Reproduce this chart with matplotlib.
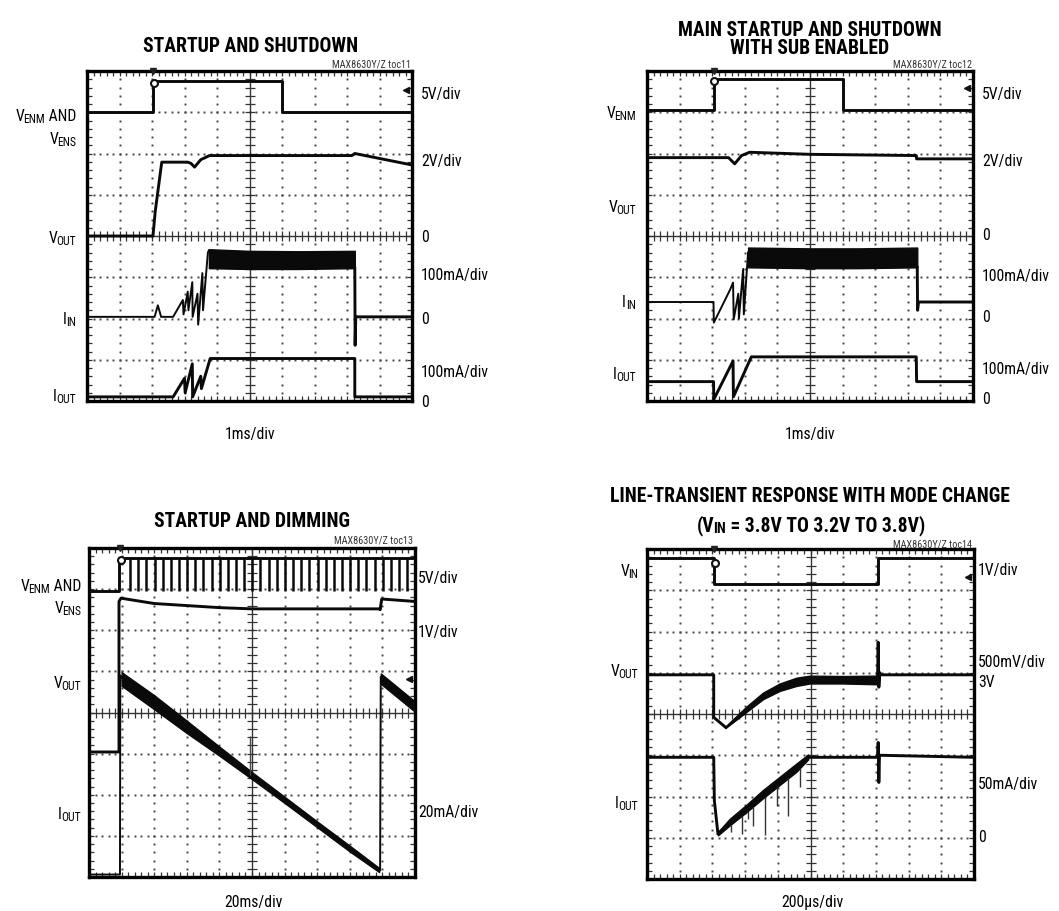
import numpy as np
import matplotlib
matplotlib.use('Agg')
import matplotlib.pyplot as plt
from matplotlib import font_manager as fm

# pick the narrowest sans family available
_names = {f.name for f in fm.fontManager.ttflist}
_cond = {f.name for f in fm.fontManager.ttflist
         if str(f.stretch) in ('condensed', 'semi-condensed', 'extra-condensed', 'ultra-condensed')
         or (isinstance(f.stretch, int) and f.stretch < 500)}
FONT, STRETCH = 'Liberation Sans', 'normal'
for cand in ['Liberation Sans Narrow', 'Roboto Condensed', 'Open Sans Condensed']:
    if cand in _names:
        FONT = cand
        break
else:
    for cand in ['Roboto', 'DejaVu Sans', 'Liberation Sans']:
        if cand in _cond:
            FONT, STRETCH = cand, 'condensed'
            break
    else:
        if 'Roboto' in _names:
            FONT = 'Roboto'
plt.rcParams['font.family'] = [FONT, 'DejaVu Sans']
plt.rcParams['font.stretch'] = STRETCH

# ---------------- data (screen divisions: x 0..10, y 0..8) ----------------
# Panel 1: STARTUP AND SHUTDOWN
p1_venm_t = [0, 2.03, 2.03, 6.01, 6.01, 10]
p1_venm_v = [7.0, 7.0, 7.75, 7.75, 7.0, 7.0]
p1_vout_t = [0, 2.03, 2.1, 2.3, 3.1, 3.2, 3.31, 3.5, 3.77, 8.15, 8.24, 9.95]
p1_vout_v = [4.0, 4.0, 4.6, 5.79, 5.79, 5.76, 5.67, 5.85, 5.95, 5.95, 6.0, 5.73]
p1_iin_t = [0, 2.08, 2.18, 2.28, 2.65, 2.95, 2.97, 3.1, 3.12, 3.24, 3.25, 3.4, 3.42, 3.55, 3.57, 3.72, 3.75]
p1_iin_v = [2.04, 2.04, 2.32, 2.04, 2.04, 2.45, 2.1, 2.65, 2.2, 2.88, 2.04, 2.6, 1.85, 3.1, 2.2, 3.6, 3.65]
p1_iin_band_t = [3.75, 5.0, 6.5, 8.24]
p1_iin_band_hi = [3.68, 3.64, 3.63, 3.64]
p1_iin_band_lo = [3.22, 3.2, 3.2, 3.22]
p1_iin_tail_t = [8.24, 8.25, 8.27, 10]
p1_iin_tail_v = [3.22, 1.35, 2.04, 2.04]
p1_iout_t = [0, 2.65, 3.0, 3.02, 3.24, 3.25, 3.5, 3.52, 3.79, 8.24, 8.24, 10]
p1_iout_v = [0.1, 0.1, 0.55, 0.2, 0.9, 0.1, 0.6, 0.3, 1.03, 1.03, 0.1, 0.1]

# Panel 2: MAIN STARTUP AND SHUTDOWN WITH SUB ENABLED
p2_venm_t = [0, 2.04, 2.04, 6.01, 6.01, 10]
p2_venm_v = [7.06, 7.06, 7.8, 7.8, 7.06, 7.06]
p2_vout_t = [0, 2.5, 2.69, 2.9, 3.15, 5.0, 8.26, 8.27, 10]
p2_vout_v = [5.9, 5.9, 5.75, 5.95, 6.03, 5.98, 5.95, 5.87, 5.87]
p2_iin_t = [0, 2.04, 2.05, 2.55, 2.64, 2.66, 2.8, 2.82, 2.95, 2.97, 3.1]
p2_iin_v = [2.4, 2.4, 1.9, 2.7, 2.87, 1.98, 2.6, 2.0, 3.2, 2.1, 3.6]
p2_iin_band_t = [3.1, 5.0, 6.5, 8.29]
p2_iin_band_hi = [3.72, 3.7, 3.7, 3.72]
p2_iin_band_lo = [3.24, 3.22, 3.22, 3.24]
p2_iin_tail_t = [8.29, 8.3, 8.33, 10]
p2_iin_tail_v = [3.24, 2.2, 2.4, 2.4]
p2_iout_t = [0, 2.04, 2.05, 2.64, 2.65, 3.2, 8.26, 8.27, 10]
p2_iout_v = [0.47, 0.47, 0.04, 0.97, 0.1, 1.07, 1.07, 0.47, 0.47]

# Panel 3: STARTUP AND DIMMING
p3_venm_t = [0, 0.92, 0.92, 10]
p3_venm_v = [6.96, 6.96, 7.75, 7.75]
p3_pulse_t = [1.26, 1.51, 1.76, 2.01, 2.26, 2.51, 2.76, 3.01, 3.26, 3.51, 3.76, 4.01,
              4.26, 4.51, 4.76, 5.01, 5.26, 5.51, 5.76, 6.01, 6.26, 6.51, 6.76, 7.01,
              7.26, 7.51, 7.76, 8.01, 8.26, 8.51, 8.76, 9.01, 9.26, 9.51, 9.76]
p3_pulse_low = 6.95
p3_vout_t = [0, 0.92, 0.92, 0.98, 2.0, 4.0, 5.0, 8.92, 8.93, 8.98, 10]
p3_vout_v = [3.04, 3.04, 6.7, 6.78, 6.65, 6.55, 6.52, 6.52, 6.5, 6.76, 6.7]
p3_iout_start_t = [0, 0.95, 0.96, 1.0]
p3_iout_start_v = [0.06, 0.06, 4.9, 4.85]
p3_iout_band_t = [1.0, 2.0, 3.0, 4.0, 5.0, 6.0, 7.0, 8.0, 8.9]
p3_iout_band_hi = [4.98, 4.42, 3.80, 3.17, 2.55, 1.95, 1.35, 0.76, 0.22]
p3_iout_band_lo = [4.65, 4.08, 3.50, 2.95, 2.38, 1.80, 1.21, 0.62, 0.12]
p3_iout_re_t = [8.9, 8.93, 8.95]
p3_iout_re_v = [0.16, 0.16, 4.86]
p3_iout_re_band_t = [8.95, 9.95]
p3_iout_re_band_hi = [4.95, 4.3]
p3_iout_re_band_lo = [4.7, 4.05]
p3_spike_t = [4.93]
p3_spike_lo = [2.47]
p3_spike_hi = [3.44]

# Panel 4: LINE-TRANSIENT RESPONSE WITH MODE CHANGE
p4_vin_t = [0, 2.04, 2.04, 7.07, 7.07, 10]
p4_vin_v = [7.77, 7.77, 7.15, 7.15, 7.77, 7.77]
p4_vout_pre_t = [0, 2.04, 2.04, 2.4]
p4_vout_pre_v = [4.95, 4.95, 3.92, 3.68]
p4_vout_band_t = [2.4, 3.04, 3.55, 4.06, 4.57, 4.98, 6.0, 7.05]
p4_vout_band_hi = [3.70, 4.18, 4.52, 4.74, 4.88, 4.93, 4.92, 4.93]
p4_vout_band_lo = [3.66, 4.05, 4.36, 4.56, 4.68, 4.74, 4.74, 4.72]
p4_vout_post_t = [7.05, 7.07, 7.09, 7.12, 7.15, 10]
p4_vout_post_v = [4.85, 5.74, 4.65, 5.0, 4.95, 4.95]
p4_iout_t = [0, 2.04, 2.06, 2.17, 2.53, 3.04, 3.55, 4.06, 4.57, 4.93, 7.05, 7.07, 7.09, 7.11, 10]
p4_iout_v = [2.95, 2.95, 1.9, 1.09, 1.37, 1.7, 2.06, 2.38, 2.7, 2.95, 2.95, 3.31, 2.34, 3.0, 2.95]
p4_iout_ramp_t = [2.17, 2.53, 3.04, 3.55, 4.06, 4.57, 4.93]
p4_iout_ramp_hi = [1.14, 1.46, 1.80, 2.16, 2.48, 2.80, 3.02]
p4_iout_ramp_lo = [1.06, 1.30, 1.62, 1.96, 2.28, 2.60, 2.90]
p4_spike_t = [2.56, 2.9, 3.09, 3.24, 3.61, 3.98, 4.32, 4.68]
p4_spike_lo = [1.14, 1.09, 1.45, 1.29, 1.07, 1.78, 1.53, 2.23]

# ---------------- figure ----------------
W, H = 1059, 912
fig = plt.figure(figsize=(W / 100, H / 100), dpi=100)
fig.patch.set_facecolor('white')
R = fig.canvas.get_renderer()

def fx(x):
    return x / W

def fy(y):
    return 1 - y / H

def width_of(s, size, weight='normal'):
    t = fig.text(0, 0, s, fontsize=size, fontweight=weight)
    w = t.get_window_extent(R).width
    t.remove()
    return w

def fit_size(s, target_px, weight='normal', ref=12.0):
    return ref * target_px / width_of(s, ref, weight)

LBL = fit_size('100mA/div', 68)
TTL_SIZE = 0.5 * (fit_size('LINE-TRANSIENT RESPONSE WITH MODE CHANGE', 410, 'bold')
                  + fit_size('STARTUP AND SHUTDOWN', 208, 'bold'))
TOC_SIZE = fit_size('MAX8630Y/Z toc11', 78)

def rich(x, y, parts, size=None, ha='right', weight='normal', color='black'):
    """parts: list of (string, is_subscript). y = vertical centre (px)."""
    size = LBL if size is None else size
    sub = size * 0.74
    px_per_pt = 100 / 72
    pieces = []
    prev = ''
    for s, is_sub in parts:
        fs = sub if is_sub else size
        w = width_of(s, fs, weight)
        kern = -0.08 * size * px_per_pt if (is_sub and prev.endswith('V')) else 0.0
        pieces.append((s, fs, is_sub, w, kern))
        prev = s
    total = sum(p[3] + p[4] for p in pieces)
    if ha == 'right':
        cx = x - total
    elif ha == 'center':
        cx = x - total / 2
    else:
        cx = x
    base = y + 0.36 * size * px_per_pt
    for s, fs, is_sub, w, kern in pieces:
        cx += kern
        by = base + (0.12 * size * px_per_pt if is_sub else 0)
        fig.text(fx(cx), fy(by), s, fontsize=fs, fontweight=weight,
                 ha='left', va='baseline', color=color)
        cx += w

def txt(x, y, s, size=None, ha='left', weight='normal', color='black', va='center'):
    fig.text(fx(x), fy(y), s, fontsize=LBL if size is None else size,
             ha=ha, va=va, fontweight=weight, color=color)

TRC = '#0a0a0a'
LW = 2.1

def make_ax(x0, y0, x1, y1):
    ax = fig.add_axes([fx(x0), fy(y1), (x1 - x0) / W, (y1 - y0) / H])
    ax.set_xlim(0, 10)
    ax.set_ylim(0, 8)
    ax.set_xticks(np.arange(0, 10.01, 1))
    ax.set_yticks(np.arange(0, 8.01, 1))
    ax.set_xticks(np.arange(0, 10.01, 0.2), minor=True)
    ax.set_yticks(np.arange(0, 8.01, 0.2), minor=True)
    ax.tick_params(which='both', direction='in', top=True, right=True,
                   length=3.5, width=0.9, color='#333',
                   labelbottom=False, labelleft=False)
    for s in ax.spines.values():
        s.set_linewidth(2.4)
        s.set_color('black')
    ys = np.arange(0, 8.001, 0.2)
    xs = np.arange(0, 10.001, 0.2)
    for gx in range(1, 10):
        if gx == 5:
            continue
        ax.plot([gx] * len(ys), ys, ls='none', marker='s', ms=1.4, color='#444', mew=0)
    for gy in range(1, 8):
        if gy == 4:
            continue
        ax.plot(xs, [gy] * len(xs), ls='none', marker='s', ms=1.4, color='#444', mew=0)
    ax.axhline(4, color='#333', lw=1.0)
    ax.axvline(5, color='#333', lw=1.0)
    ax.plot(xs, [4] * len(xs), ls='none', marker='|', ms=7, mew=0.9, color='#333')
    ax.plot([5] * len(ys), ys, ls='none', marker='_', ms=7, mew=0.9, color='#333')
    return ax

def tr(ax, t, v, lw=LW, color=TRC):
    ax.plot(t, v, color=color, lw=lw, solid_joinstyle='round', zorder=5)

def band(ax, t, hi, lo):
    ax.fill_between(t, lo, hi, color=TRC, lw=1.0, zorder=5)

def trig(ax, x, y_level, side_y):
    ax.plot([x], [8.0], marker='v', ms=5, color='#222', clip_on=False, zorder=6)
    ax.plot([x + 0.03], [y_level], marker='o', ms=5, mfc='white', mec='#111', mew=1.5, zorder=6)
    if side_y is not None:
        ax.plot([9.83], [side_y], marker='<', ms=5, color='#111', zorder=6)

# ---- Panel 1 ----
ax1 = make_ax(87, 72, 412, 402)
tr(ax1, p1_venm_t, p1_venm_v)
tr(ax1, p1_vout_t, p1_vout_v)
tr(ax1, p1_iin_t, p1_iin_v, lw=1.4)
band(ax1, p1_iin_band_t, p1_iin_band_hi, p1_iin_band_lo)
tr(ax1, p1_iin_tail_t, p1_iin_tail_v)
tr(ax1, p1_iout_t, p1_iout_v)
trig(ax1, 2.03, 7.7, 7.53)

txt(251, 47, 'STARTUP AND SHUTDOWN', size=TTL_SIZE, ha='center', weight='bold')
txt(411, 69, 'MAX8630Y/Z toc11', size=TOC_SIZE, ha='right', va='bottom', color='#333')
rich(76, 115, [('V', False), ('ENM', True), (' AND', False)])
rich(76, 138, [('V', False), ('ENS', True)])
rich(76, 237, [('V', False), ('OUT', True)])
rich(76, 318, [('I', False), ('IN', True)])
rich(76, 395, [('I', False), ('OUT', True)])
for y, s in [(95, '5V/div'), (162, '2V/div'), (237, '0'), (276, '100mA/div'),
             (320, '0'), (373, '100mA/div'), (403, '0')]:
    txt(421, y, s)
txt(250, 435, '1ms/div', ha='center')

# ---- Panel 2 ----
ax2 = make_ax(647, 72, 973, 402)
tr(ax2, p2_venm_t, p2_venm_v)
tr(ax2, p2_vout_t, p2_vout_v)
tr(ax2, p2_iin_t, p2_iin_v, lw=1.4)
band(ax2, p2_iin_band_t, p2_iin_band_hi, p2_iin_band_lo)
tr(ax2, p2_iin_tail_t, p2_iin_tail_v)
tr(ax2, p2_iout_t, p2_iout_v)
trig(ax2, 2.04, 7.75, 7.59)

txt(810, 31, 'MAIN STARTUP AND SHUTDOWN', size=TTL_SIZE, ha='center', weight='bold')
txt(810, 49, 'WITH SUB ENABLED', size=TTL_SIZE, ha='center', weight='bold')
txt(972, 69, 'MAX8630Y/Z toc12', size=TOC_SIZE, ha='right', va='bottom', color='#333')
rich(636, 112, [('V', False), ('ENM', True)])
rich(636, 206, [('V', False), ('OUT', True)])
rich(636, 301, [('I', False), ('IN', True)])
rich(636, 373, [('I', False), ('OUT', True)])
for y, s in [(95, '5V/div'), (162, '2V/div'), (235, '0'), (277, '100mA/div'),
             (318, '0'), (370, '100mA/div'), (400, '0')]:
    txt(982, y, s)
txt(810, 435, '1ms/div', ha='center')

# ---- Panel 3 ----
ax3 = make_ax(89, 549, 415, 878)
tr(ax3, p3_venm_t, p3_venm_v)
ax3.vlines(p3_pulse_t, p3_pulse_low, p3_venm_v[-1], color=TRC, lw=1.8, zorder=5)
tr(ax3, p3_vout_t, p3_vout_v)
tr(ax3, p3_iout_start_t, p3_iout_start_v, lw=1.4)
band(ax3, p3_iout_band_t, p3_iout_band_hi, p3_iout_band_lo)
tr(ax3, p3_iout_re_t, p3_iout_re_v, lw=1.4)
band(ax3, p3_iout_re_band_t, p3_iout_re_band_hi, p3_iout_re_band_lo)
ax3.vlines(p3_spike_t, p3_spike_lo, p3_spike_hi, color='#444', lw=1.0, zorder=5)
trig(ax3, 0.95, 7.7, 4.82)

txt(252, 522, 'STARTUP AND DIMMING', size=TTL_SIZE, ha='center', weight='bold')
txt(413, 546, 'MAX8630Y/Z toc13', size=TOC_SIZE, ha='right', va='bottom', color='#333')
rich(81, 585, [('V', False), ('ENM', True), (' AND', False)])
rich(81, 607, [('V', False), ('ENS', True)])
rich(81, 682, [('V', False), ('OUT', True)])
rich(81, 813, [('I', False), ('OUT', True)])
for y, s in [(578, '5V/div'), (632, '1V/div'), (813, '20mA/div')]:
    txt(418, y, s)
txt(253, 903, '20ms/div', ha='center')

# ---- Panel 4 ----
ax4 = make_ax(647, 550, 974, 880)
tr(ax4, p4_vin_t, p4_vin_v)
tr(ax4, p4_vout_pre_t, p4_vout_pre_v)
band(ax4, p4_vout_band_t, p4_vout_band_hi, p4_vout_band_lo)
tr(ax4, p4_vout_post_t, p4_vout_post_v)
tr(ax4, p4_iout_t, p4_iout_v)
band(ax4, p4_iout_ramp_t, p4_iout_ramp_hi, p4_iout_ramp_lo)
ax4.vlines(p4_spike_t, p4_spike_lo,
           np.interp(p4_spike_t, p4_iout_ramp_t, p4_iout_ramp_lo),
           color='#333', lw=1.0, zorder=5)
trig(ax4, 2.04, 7.65, 7.31)

txt(810, 497, 'LINE-TRANSIENT RESPONSE WITH MODE CHANGE', size=TTL_SIZE, ha='center', weight='bold')
rich(811, 524, [('(V', False), ('IN', True), (' = 3.8V TO 3.2V TO 3.8V)', False)],
     size=TTL_SIZE, ha='center', weight='bold')
txt(972, 549, 'MAX8630Y/Z toc14', size=TOC_SIZE, ha='right', va='bottom', color='#333')
rich(638, 570, [('V', False), ('IN', True)])
rich(638, 670, [('V', False), ('OUT', True)])
rich(638, 802, [('I', False), ('OUT', True)])
for y, s in [(570, '1V/div'), (663, '500mV/div'), (683, '3V'), (785, '50mA/div'), (838, '0')]:
    txt(978, y, s)
txt(812, 903, '200\u00b5s/div', ha='center')

fig.savefig('out.png', dpi=100, facecolor='white')
